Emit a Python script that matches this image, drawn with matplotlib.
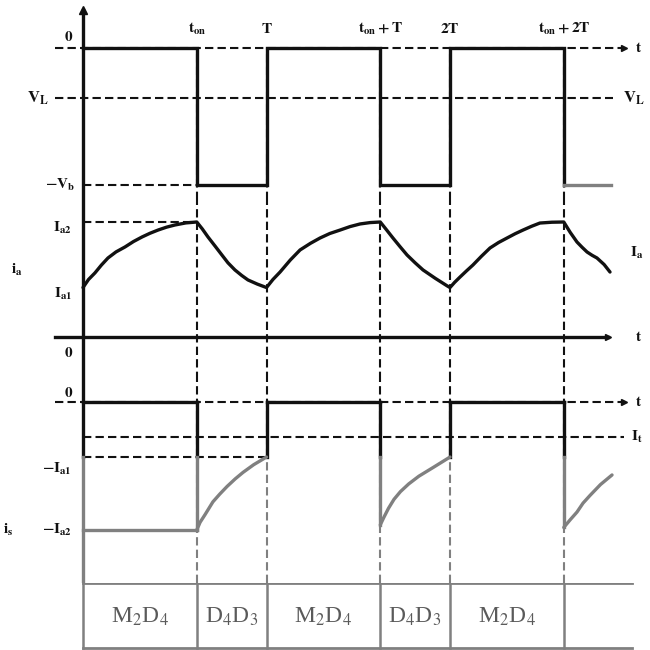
import matplotlib
matplotlib.use("Agg")
import matplotlib.pyplot as plt

plt.rcParams["mathtext.fontset"] = "stix"
plt.rcParams["font.family"] = ["Liberation Serif", "DejaVu Serif"]

# ---- time base (one period T) ----
T = 1.0
t_on = 0.62
t_end = 2.875
t_left = -0.15
t_arrow = 2.95
edges = [0.0, t_on, T, T + t_on, 2 * T, 2 * T + t_on]

# ---- voltage levels (top panel) ----
v_top = 1.0      # labelled "0"
v_L = 0.635
v_low = 0.0      # labelled "-V_b"

# ---- current levels ----
I_a1 = 0.43
I_a2 = 1.0
I_t = -0.27

# i_a waveform (three periods)
ia_t = [0.0, 0.03, 0.065, 0.10, 0.136, 0.18, 0.229, 0.275, 0.322, 0.365, 0.409, 0.455,
        0.501, 0.56, 0.62,
        0.65, 0.681, 0.72, 0.757, 0.79, 0.828, 0.865, 0.899, 0.95, 1.0,
        1.035, 1.074, 1.13, 1.183, 1.24, 1.292, 1.345, 1.401, 1.455, 1.510, 1.565, 1.62,
        1.655, 1.689, 1.728, 1.766, 1.81, 1.853, 1.92, 1.984, 2.0,
        2.025, 2.055, 2.09, 2.125, 2.17, 2.218, 2.265, 2.311, 2.355, 2.398, 2.445, 2.490,
        2.555, 2.62,
        2.655, 2.692, 2.72, 2.747, 2.775, 2.801, 2.84, 2.872]
ia_v = [0.43, 0.50, 0.557, 0.625, 0.687, 0.740, 0.783, 0.830, 0.870, 0.902, 0.930, 0.955,
        0.974, 0.992, 1.0,
        0.94, 0.870, 0.79, 0.713, 0.645, 0.583, 0.535, 0.496, 0.46, 0.43,
        0.50, 0.565, 0.67, 0.757, 0.815, 0.861, 0.90, 0.930, 0.960, 0.983, 0.995, 1.0,
        0.93, 0.861, 0.785, 0.713, 0.645, 0.583, 0.51, 0.445, 0.43,
        0.475, 0.522, 0.575, 0.626, 0.70, 0.774, 0.822, 0.861, 0.898, 0.930, 0.963, 0.991,
        0.998, 1.0,
        0.91, 0.826, 0.78, 0.739, 0.71, 0.687, 0.63, 0.565]

# bottom current: recovery curves after each turn-off
is_curves_t = [[0.62, 0.638, 0.665, 0.708, 0.745, 0.785, 0.83, 0.872, 0.93, 1.0],
               [1.62, 1.64, 1.665, 1.695, 1.73, 1.775, 1.83, 1.91, 2.0],
               [2.62, 2.655, 2.692, 2.725, 2.763, 2.82, 2.883]]
is_curves_v = [[-1.0, -0.94, -0.88, -0.78, -0.72, -0.66, -0.60, -0.55, -0.49, -0.43],
               [-0.96, -0.90, -0.83, -0.76, -0.70, -0.64, -0.58, -0.51, -0.43],
               [-0.98, -0.92, -0.86, -0.79, -0.73, -0.645, -0.57]]

modes = ["M$_2$D$_4$", "D$_4$D$_3$", "M$_2$D$_4$", "D$_4$D$_3$", "M$_2$D$_4$", ""]
t_table_end = 2.99

top_labels = [r"$\mathbf{t_{on}}$", r"$\mathbf{T}$", r"$\mathbf{t_{on}+T}$",
              r"$\mathbf{2T}$", r"$\mathbf{t_{on}+2T}$"]

K = "#111111"
G = "#808080"
LW = 2.4
DLW = 1.5
DASH = (0, (4, 2))

H = 650.0
X0_PX = 83.0
PX_PER_T = 183.5

fig = plt.figure(figsize=(6.5, 6.5), dpi=100)


def panel(row_top, row_bot, row_a, val_a, row_b, val_b):
    ax = fig.add_axes([0, 1 - row_bot / H, 1, (row_bot - row_top) / H])
    k = (val_a - val_b) / (row_b - row_a)
    ax.set_ylim(val_a + (row_a - row_bot) * k, val_a + (row_a - row_top) * k)
    ax.set_xlim(-X0_PX / PX_PER_T, (650 - X0_PX) / PX_PER_T)
    ax.axis("off")
    ax.patch.set_alpha(0)
    return ax


def txt(ax, x, y, s, ha="center", size=11, color=K):
    ax.text(x, y, s, ha=ha, va="center", fontsize=size, color=color)


# ================= voltage panel =================
ax1 = panel(0, 200, 48, v_top, 185, v_low)
y0, y1 = ax1.get_ylim()
ax1.plot([t_left, t_arrow], [v_top, v_top], color=K, lw=DLW, ls=DASH)
ax1.plot([t_arrow], [v_top], marker=">", ms=5, color=K)
ax1.plot([t_left, 2.89], [v_L, v_L], color=K, lw=DLW, ls=DASH)
ax1.plot([0, t_on], [v_low, v_low], color=K, lw=DLW, ls=DASH)
for e in edges[1:]:
    ax1.plot([e, e], [y0, v_top], color=K, lw=DLW, ls=DASH)
# waveform
vx, vy = [], []
levels = [v_top, v_low] * 3
for i, e in enumerate(edges):
    nxt = edges[i + 1] if i + 1 < len(edges) else t_end
    if i > 0:
        vx.append(e)
        vy.append(levels[i - 1])
    vx += [e, nxt]
    vy += [levels[i], levels[i]]
ax1.plot(vx[:-1], vy[:-1], color=K, lw=LW, solid_joinstyle="miter")
ax1.plot(vx[-2:], vy[-2:], color=G, lw=LW)
ax1.plot([0, 0], [y0, 1.28], color=K, lw=LW)
ax1.plot([0], [1.28], marker="^", ms=6, color=K)

txt(ax1, -0.08, 1.08, r"$\mathbf{0}$")
for e, s in zip(edges[1:], top_labels):
    txt(ax1, e, 1.14, s)
txt(ax1, 3.03, v_top, r"$\mathbf{t}$")
txt(ax1, -0.245, v_L, r"$\mathbf{V_L}$", size=12)
txt(ax1, 3.0, v_L, r"$\mathbf{V_L}$", size=12)
txt(ax1, -0.045, v_low, r"$\mathbf{-V_b}$", ha="right")

# ================= i_a panel =================
ax2 = panel(200, 380, 337, 0.0, 222, I_a2)
y0, y1 = ax2.get_ylim()
for e in edges[1:]:
    ax2.plot([e, e], [y0, y1], color=K, lw=DLW, ls=DASH)
ax2.plot([0, t_on], [I_a2, I_a2], color=K, lw=DLW, ls=DASH)
ax2.plot([t_left, 2.86], [0, 0], color=K, lw=LW)
ax2.plot([2.86], [0], marker=">", ms=5, color=K)
ax2.plot([0, 0], [y0, y1], color=K, lw=LW)
ax2.plot(ia_t, ia_v, color=K, lw=LW, solid_capstyle="round", solid_joinstyle="round")

txt(ax2, -0.06, 0.95, r"$\mathbf{I_{a2}}$", ha="right")
txt(ax2, -0.06, 0.37, r"$\mathbf{I_{a1}}$", ha="right")
txt(ax2, -0.36, 0.58, r"$\mathbf{i_a}$")
txt(ax2, -0.08, -0.14, r"$\mathbf{0}$")
txt(ax2, 3.02, 0.73, r"$\mathbf{I_a}$")
txt(ax2, 3.03, 0.0, r"$\mathbf{t}$")

# ================= i_s panel =================
ax3 = panel(380, 583, 402, 0.0, 530, -I_a2)
y0, y1 = ax3.get_ylim()
for e in edges[1:]:
    ax3.plot([e, e], [-I_a1, y1], color=K, lw=DLW, ls=DASH)
    ax3.plot([e, e], [y0, -I_a1], color=G, lw=DLW, ls=DASH)
ax3.plot([t_left, t_arrow], [0, 0], color=K, lw=DLW, ls=DASH)
ax3.plot([t_arrow], [0], marker=">", ms=5, color=K)
ax3.plot([0, t_arrow], [I_t, I_t], color=K, lw=DLW, ls=DASH)
ax3.plot([0, T], [-I_a1, -I_a1], color=K, lw=DLW, ls=DASH)
ax3.plot([0, t_on], [-I_a2, -I_a2], color=G, lw=LW)
ax3.plot([0, 0], [-I_a1, y1], color=K, lw=LW)
ax3.plot([0, 0], [y0, -I_a1], color=G, lw=LW)
for i in range(0, 6, 2):
    a = edges[i]
    b = edges[i + 1]
    ax3.plot([a, b], [0, 0], color=K, lw=LW)
    ax3.plot([b, b], [0, -I_a1], color=K, lw=LW)
    if i > 0:
        ax3.plot([a, a], [0, -I_a1], color=K, lw=LW)
for ct, cv in zip(is_curves_t, is_curves_v):
    ax3.plot([ct[0], ct[0]], [-I_a1, cv[0]], color=G, lw=LW)
    ax3.plot(ct, cv, color=G, lw=LW, solid_joinstyle="round", solid_capstyle="round")

txt(ax3, -0.08, 0.07, r"$\mathbf{0}$")
txt(ax3, 3.03, 0.0, r"$\mathbf{t}$")
txt(ax3, 3.02, I_t, r"$\mathbf{I_t}$")
txt(ax3, -0.06, -0.52, r"$\mathbf{-I_{a1}}$", ha="right")
txt(ax3, -0.06, -1.0, r"$\mathbf{-I_{a2}}$", ha="right")
txt(ax3, -0.41, -1.0, r"$\mathbf{i_s}$")

# ================= mode table =================
ax4 = panel(583, 650, 583, 1.0, 648, 0.0)
bounds = edges + [t_table_end]
ax4.plot([0, t_table_end], [1, 1], color=G, lw=2)
ax4.plot([0, t_table_end], [0, 0], color=G, lw=2)
for e in edges:
    ax4.plot([e, e], [0, 1], color=G, lw=1.8)
for i, m in enumerate(modes):
    if m:
        ax4.text((bounds[i] + bounds[i + 1]) / 2, 0.48, m, ha="center", va="center",
                 fontsize=17, color="#5a5a5a")

fig.savefig("out.png", dpi=100)
